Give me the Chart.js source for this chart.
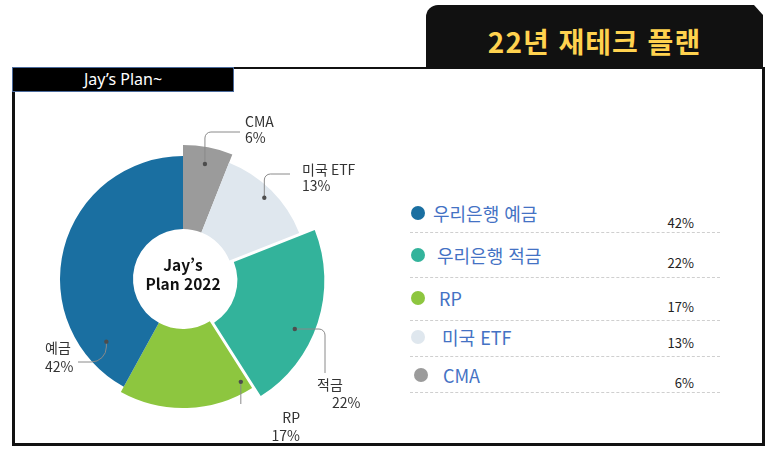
<!DOCTYPE html>
<html lang="ko">
<head>
<meta charset="utf-8">
<script src="https://cdn.jsdelivr.net/npm/chart.js@4.4.1/dist/chart.umd.min.js"></script>
<style>
  body { margin:0; width:773px; height:453px; background:#fff; position:relative; overflow:hidden;
         font-family:"Noto Sans CJK KR","Noto Sans",sans-serif; }
  #tab { position:absolute; left:426px; top:5px; width:337px; height:63px; background:#111;
         border-top-left-radius:12px;
         clip-path:polygon(0 0, calc(100% - 9px) 0, 100% 10px, 100% 100%, 0 100%);
         color:#ffd24f; font-weight:700; font-size:28px; letter-spacing:1px;
         text-align:center; line-height:72px; overflow:hidden; }
  #frame { position:absolute; left:12px; top:67px; width:747px; height:374px;
           border:3px solid #111; border-top-width:2px; }
  #head { position:absolute; left:12px; top:67px; width:220px; height:23px; background:#000;
          border:1px solid #4a6a9c; color:#fff; font-family:"Noto Sans",sans-serif; font-size:16px;
          text-align:center; line-height:23px; }
  #pie { position:absolute; left:14px; top:92px; }
  .row-dot { position:absolute; width:14px; height:14px; border-radius:50%; }
  .row-name { position:absolute; color:#4472c4; font-size:18px; line-height:20px; white-space:nowrap; }
  .row-pct { position:absolute; color:#222; font-size:13px; line-height:14px; text-align:right; width:60px; }
  .row-line { position:absolute; left:410px; width:310px; border-top:1px dashed #cfcfcf; }
</style>
</head>
<body>
<div id="tab">22년 재테크 플랜</div>
<div id="frame"></div>
<div id="head">Jay’s Plan~</div>
<canvas id="pie" width="386" height="351"></canvas>
<div id="legend"></div>
<script>
// slices in drawing order (clockwise from 12 o'clock)
var legendNames = ['CMA', '미국 ETF', '우리은행 적금', 'RP', '우리은행 예금'];
var calloutNames = ['CMA', '미국 ETF', '적금', 'RP', '예금'];
var shares = [6, 13, 22, 17, 42];
var sliceColors = ['#9b9b9b', '#dfe7ee', '#33b39b', '#8dc63f', '#1a6fa1'];
// legend lists them biggest deposit first
var legendOrder = [4, 2, 3, 1, 0];

// per-slice look: outer radius, explode offset
var outerRadii = [134, 125, 137, 129, 123];
var innerRadius = 50;
var sliceOffsets = [0, 0, 18, 0, 0];

// callout placement (relative to the pie centre)
var callouts = [
    { frac: 0.5,  r: 117, path: 'vh', bend: -147, end: 57,  round: 6,
      text: [{ x: 62, y: -157, align: 'left' }, { x: 62, y: -141, align: 'left' }] },
    { frac: 0.5,  r: 115, path: 'vh', bend: -105, end: 107, round: 6,
      text: [{ x: 119, y: -109, align: 'left' }, { x: 119, y: -93, align: 'left' }] },
    { frac: 0.58, r: 118, path: 'hv', bend: 142, end: 94, round: 6,
      text: [{ x: 134, y: 106, align: 'left' }, { x: 149, y: 124, align: 'left' }] },
    { frac: 0.05, r: 118, path: 'v', end: 125,
      text: [{ x: 117, y: 139, align: 'right' }, { x: 117, y: 157, align: 'right' }] },
    { frac: 0.145, r: 99, path: 'vh', bend: 83, end: -105, round: 15,
      text: [{ x: -138, y: 69, align: 'left' }, { x: -138, y: 88, align: 'left' }] }
];

var pieLook = {
    id: 'pieLook',
    beforeDatasetsDraw: function(chart) {
        chart.getDatasetMeta(0).data.forEach(function(arc, i) {
            arc.innerRadius = innerRadius;
            arc.outerRadius = outerRadii[i];
        });
    },
    afterDatasetsDraw: function(chart) {
        var ctx = chart.ctx;
        var arcs = chart.getDatasetMeta(0).data;
        arcs.forEach(function(arc, i) {
            var c = callouts[i];
            var cx = arc.x, cy = arc.y;
            var mid = (arc.startAngle + arc.endAngle) / 2;
            var shift = sliceOffsets[i] / 4;
            var a = arc.startAngle + c.frac * (arc.endAngle - arc.startAngle);
            var px = cx + Math.cos(mid) * shift + Math.cos(a) * c.r;
            var py = cy + Math.sin(mid) * shift + Math.sin(a) * c.r;

            ctx.save();
            ctx.strokeStyle = '#8a8a8a';
            ctx.lineWidth = 1;
            ctx.beginPath();
            ctx.moveTo(px, py);
            if (c.path === 'vh') {
                ctx.arcTo(px, cy + c.bend, cx + c.end, cy + c.bend, c.round);
                ctx.lineTo(cx + c.end, cy + c.bend);
            } else if (c.path === 'hv') {
                ctx.arcTo(cx + c.bend, py, cx + c.bend, cy + c.end, c.round);
                ctx.lineTo(cx + c.bend, cy + c.end);
            } else {
                ctx.lineTo(px, cy + c.end);
            }
            ctx.stroke();

            ctx.fillStyle = '#4d4d4d';
            ctx.beginPath();
            ctx.arc(px, py, 2.2, 0, Math.PI * 2);
            ctx.fill();

            ctx.fillStyle = '#333';
            ctx.font = '14px "Noto Sans CJK KR"';
            ctx.textBaseline = 'middle';
            var lines = [calloutNames[i], shares[i] + '%'];
            lines.forEach(function(t, k) {
                ctx.textAlign = c.text[k].align;
                ctx.fillText(t, cx + c.text[k].x, cy + c.text[k].y);
            });
            ctx.restore();
        });

        // centre caption
        var ctr = arcs[0];
        ctx.save();
        ctx.fillStyle = '#111';
        ctx.font = 'bold 15.5px "Noto Sans CJK KR"';
        ctx.textAlign = 'center';
        ctx.textBaseline = 'middle';
        ctx.fillText('Jay’s', ctr.x, ctr.y - 14);
        ctx.fillText('Plan 2022', ctr.x, ctr.y + 5);
        ctx.restore();
    }
};

var pieChart = new Chart(document.getElementById('pie').getContext('2d'), {
    type: 'doughnut',
    data: {
        labels: legendNames,
        datasets: [{
            data: shares,
            backgroundColor: sliceColors,
            borderWidth: 0,
            offset: sliceOffsets
        }]
    },
    options: {
        responsive: false,
        animation: false,
        events: [],
        cutout: innerRadius,
        layout: { padding: { left: 29, right: 77, top: 47, bottom: 24 } },
        plugins: { legend: { display: false }, tooltip: { enabled: false } }
    },
    plugins: [pieLook]
});

// legend on the right
var rowTops = [213, 255, 298, 337, 375];
var dotLefts = [418, 418, 418, 418, 421];
var nameLefts = [433, 437, 439, 442, 443];
var pctTops = [223, 263, 307, 343, 383];
var lineTops = [232, 277, 320, 356, 392];
var legend = document.getElementById('legend');
legendOrder.forEach(function(idx, r) {
    var d = document.createElement('div');
    d.className = 'row-dot';
    d.style.left = (dotLefts[r] - 7) + 'px';
    d.style.top = (rowTops[r] - 7) + 'px';
    d.style.background = sliceColors[idx];
    legend.appendChild(d);

    var n = document.createElement('div');
    n.className = 'row-name';
    n.textContent = legendNames[idx];
    n.style.left = nameLefts[r] + 'px';
    n.style.top = (rowTops[r] - 10) + 'px';
    legend.appendChild(n);

    var p = document.createElement('div');
    p.className = 'row-pct';
    p.textContent = shares[idx] + '%';
    p.style.left = (694 - 60) + 'px';
    p.style.top = (pctTops[r] - 7) + 'px';
    legend.appendChild(p);

    var l = document.createElement('div');
    l.className = 'row-line';
    l.style.top = lineTops[r] + 'px';
    legend.appendChild(l);
});
</script>
</body>
</html>
